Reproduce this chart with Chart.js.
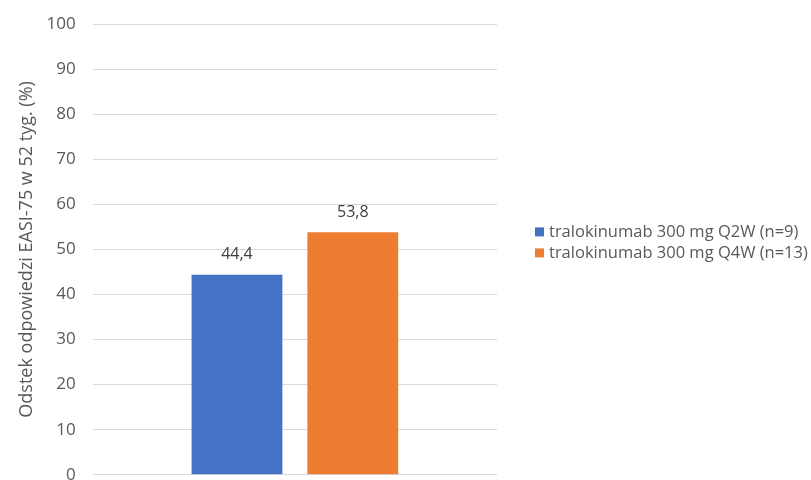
<!DOCTYPE html>
<html>
<head>
<meta charset="utf-8">
<script src="https://cdn.jsdelivr.net/npm/chart.js@4"></script>
<style>
  html, body { margin: 0; padding: 0; background: #fff; overflow: hidden; }
  canvas { display: block; }
</style>
</head>
<body>
<canvas id="easiChart" width="811" height="485"></canvas>
<script>
// Chart data
const categories = [''];
const seriesNames = ['tralokinumab 300 mg Q2W (n=9)', 'tralokinumab 300 mg Q4W (n=13)'];
const q2wValues = [44.4];
const q4wValues = [53.8];
const yTicks = [0, 10, 20, 30, 40, 50, 60, 70, 80, 90, 100];

const FONT = '"Open Sans", Lato, sans-serif';
const TEXT_COLOR = '#595959';

function formatPl(v) {
    return v.toFixed(1).replace('.', ',');
}

// Value labels above each bar
const valueLabels = {
    id: 'valueLabels',
    afterDatasetsDraw(chart) {
        const ctx = chart.ctx;
        ctx.save();
        ctx.font = '16px ' + FONT;
        ctx.fillStyle = '#404040';
        ctx.textAlign = 'center';
        ctx.textBaseline = 'middle';
        chart.data.datasets.forEach((ds, i) => {
            chart.getDatasetMeta(i).data.forEach((bar, j) => {
                ctx.fillText(formatPl(ds.data[j]), bar.x, bar.y - 20);
            });
        });
        ctx.restore();
    }
};

// Legend on the right side
const sideLegend = {
    id: 'sideLegend',
    afterDraw(chart) {
        const ctx = chart.ctx;
        const area = chart.chartArea;
        const x = area.right + 38;
        const rowH = 21;
        const n = chart.data.datasets.length;
        let y = (area.top + area.bottom) / 2 - 7 - (n - 1) * rowH / 2;
        ctx.save();
        ctx.font = '16.5px ' + FONT;
        ctx.textBaseline = 'middle';
        ctx.textAlign = 'left';
        chart.data.datasets.forEach(ds => {
            ctx.fillStyle = ds.backgroundColor;
            ctx.fillRect(x, y - 4.5, 9, 9);
            ctx.fillStyle = TEXT_COLOR;
            ctx.fillText(ds.label, x + 14, y);
            y += rowH;
        });
        ctx.restore();
    }
};

new Chart(document.getElementById('easiChart'), {
    type: 'bar',
    data: {
        labels: categories,
        datasets: [{
            label: seriesNames[0],
            data: q2wValues,
            backgroundColor: '#4472C4'
        }, {
            label: seriesNames[1],
            data: q4wValues,
            backgroundColor: '#ED7D31'
        }]
    },
    options: {
        responsive: false,
        animation: false,
        layout: {
            padding: { top: 24, right: 314, bottom: 0, left: 16 }
        },
        datasets: {
            bar: {
                categoryPercentage: 0.573,
                barPercentage: 0.784
            }
        },
        scales: {
            x: {
                display: false
            },
            y: {
                min: 0,
                max: 100,
                afterBuildTicks(scale) {
                    scale.ticks = yTicks.map(v => ({ value: v }));
                },
                border: { display: false },
                grid: {
                    color: '#d9d9d9',
                    lineWidth: 1,
                    drawTicks: true,
                    tickLength: 17,
                    tickColor: 'rgba(0,0,0,0)'
                },
                ticks: {
                    color: TEXT_COLOR,
                    padding: 0,
                    font: { family: FONT, size: 17 }
                },
                title: {
                    display: true,
                    text: 'Odstek odpowiedzi EASI-75 w 52 tyg. (%)',
                    color: TEXT_COLOR,
                    padding: { top: 0, bottom: 9 },
                    font: { family: FONT, size: 18 }
                }
            }
        },
        plugins: {
            legend: { display: false },
            tooltip: { enabled: false }
        }
    },
    plugins: [valueLabels, sideLegend]
});
</script>
</body>
</html>
